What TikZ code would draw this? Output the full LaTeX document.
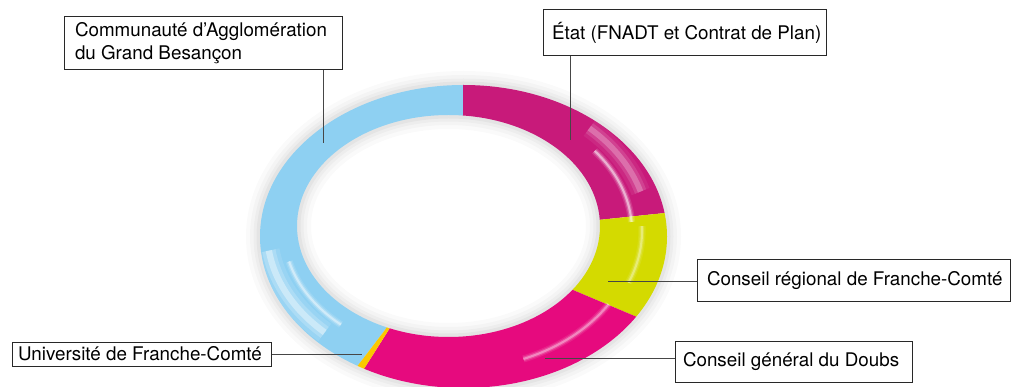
\documentclass[tikz,border=0pt]{standalone}
\usepackage{fontspec}
\setmainfont{TeX Gyre Heros}
\definecolor{cBlue}{RGB}{142,208,242}
\definecolor{cEtat}{RGB}{200,26,122}
\definecolor{cReg}{RGB}{212,218,0}
\definecolor{cGen}{RGB}{230,10,126}
\definecolor{cUniv}{RGB}{250,200,0}
\definecolor{cLine}{RGB}{70,70,70}
\definecolor{cBox}{RGB}{40,40,40}
\begin{document}
\begin{tikzpicture}[x=1pt,y=-1pt,
  lbl/.style={draw=cBox, line width=1pt, fill=white, inner sep=0pt, text=black,
    font=\fontsize{18.8}{23}\selectfont},
  leader/.style={draw=cLine, line width=1pt},
  hl/.style={white, line cap=butt}]
\useasboundingbox (0,0) rectangle (1012,387);
\fill[white] (0,0) rectangle (1012,387);

% soft shadow around the ring
\foreach \w/\o in {28/0.018,20/0.022,13/0.028,7/0.035} {
  \draw[black, opacity=\o, line width=\w pt] (463.5,236.5) ellipse [x radius=203.5pt, y radius=151.5pt];
  \draw[black, opacity=\o, line width=\w pt] (448.5,226) ellipse [x radius=151.5pt, y radius=111pt];
}

% Communauté (blue)
\begin{scope}
  \clip (448,226) -- (463,115) -- (463,25) -- (50,-60) -- (50,500) -- (298,444) -- (385,330) -- cycle;
  \fill[cBlue, even odd rule] (463.5,236.5) ellipse [x radius=203.5pt, y radius=151.5pt]
     (448.5,226) ellipse [x radius=151.5pt, y radius=111pt];
\end{scope}
% État (dark magenta)
\begin{scope}
  \clip (448,226) -- (463,115) -- (463,25) -- (900,-60) -- (799,199) -- (598,220) -- cycle;
  \fill[cEtat, even odd rule] (463.5,236.5) ellipse [x radius=203.5pt, y radius=151.5pt]
     (448.5,226) ellipse [x radius=151.5pt, y radius=111pt];
\end{scope}
% Conseil régional (yellow-green)
\begin{scope}
  \clip (448,226) -- (598,220) -- (799,199) -- (765,371) -- (573,290) -- cycle;
  \fill[cReg, even odd rule] (463.5,236.5) ellipse [x radius=203.5pt, y radius=151.5pt]
     (448.5,226) ellipse [x radius=151.5pt, y radius=111pt];
\end{scope}
% Conseil général (pink)
\begin{scope}
  \clip (448,226) -- (573,290) -- (765,371) -- (700,600) -- (300,600) -- (310,454) -- (388,331) -- cycle;
  \fill[cGen, even odd rule] (463.5,236.5) ellipse [x radius=203.5pt, y radius=151.5pt]
     (448.5,226) ellipse [x radius=151.5pt, y radius=111pt];
\end{scope}
% Université (yellow strip)
\begin{scope}
  \clip (448,226) -- (385,330) -- (298,444) -- (310,454) -- (388,331) -- cycle;
  \fill[cUniv, even odd rule] (463.5,236.5) ellipse [x radius=203.5pt, y radius=151.5pt]
     (448.5,226) ellipse [x radius=151.5pt, y radius=111pt];
\end{scope}

% glossy highlights (soft, layered strokes)
\foreach \a/\b/\rx/\ry/\w/\o in {
    16/46/192/143/8/0.35,
    4/38/176/130/3/0.7,
    -22/2/186/138/3/0.45,
    -68/-32/180/138/3/0.5,
    188/226/189/141/9/0.55,
    194/228/172/126/3/0.6} {
  \foreach \k/\f in {2.4/0.18,1.5/0.35,0.7/0.7} {
    \pgfmathsetmacro\op{\o*\f}
    \draw[hl, opacity=\op, line width=\w*\k pt]
      ([shift={(456,231)}]\a:\rx pt and \ry pt) arc[start angle=\a, end angle=\b, x radius=\rx pt, y radius=\ry pt];
  }
}

% labels
\node[lbl, minimum width=278pt, minimum height=53pt] (comm) at (203,43.5)
  {\makebox[278pt][l]{\hspace{11pt}\begin{tabular}{@{}l@{}}Communauté d’Agglomération\\du Grand Besançon\end{tabular}}};
\node[lbl, minimum width=283pt, minimum height=46pt] (etat) at (684.5,33)
  {\makebox[283pt][l]{\hspace{9pt}État (FNADT et Contrat de Plan)}};
\node[lbl, minimum width=313pt, minimum height=42pt] (reg) at (853.5,281)
  {\makebox[313pt][l]{\hspace{10pt}Conseil régional de Franche-Comté}};
\node[lbl, minimum width=237pt, minimum height=41pt] (gen) at (793.5,361.5)
  {\makebox[237pt][l]{\hspace{8pt}Conseil général du Doubs}};
\node[lbl, minimum width=259pt, minimum height=24pt] (univ) at (141.5,354)
  {\makebox[259pt][l]{\hspace{6pt}Université de Franche-Comté}};

% leader ends
\coordinate (pComm) at (323,143);
\coordinate (pEtat) at (570,140);
\coordinate (pReg) at (608,282);
\coordinate (pGen) at (545,358);
\coordinate (pUniv) at (362,354);

\draw[leader] (comm.south -| pComm) -- (pComm);
\draw[leader] (etat.south -| pEtat) -- (pEtat);
\draw[leader] (reg.west |- pReg) -- (pReg);
\draw[leader] (gen.west |- pGen) -- (pGen);
\draw[leader] (univ.east |- pUniv) -- (pUniv);
\end{tikzpicture}
\end{document}
